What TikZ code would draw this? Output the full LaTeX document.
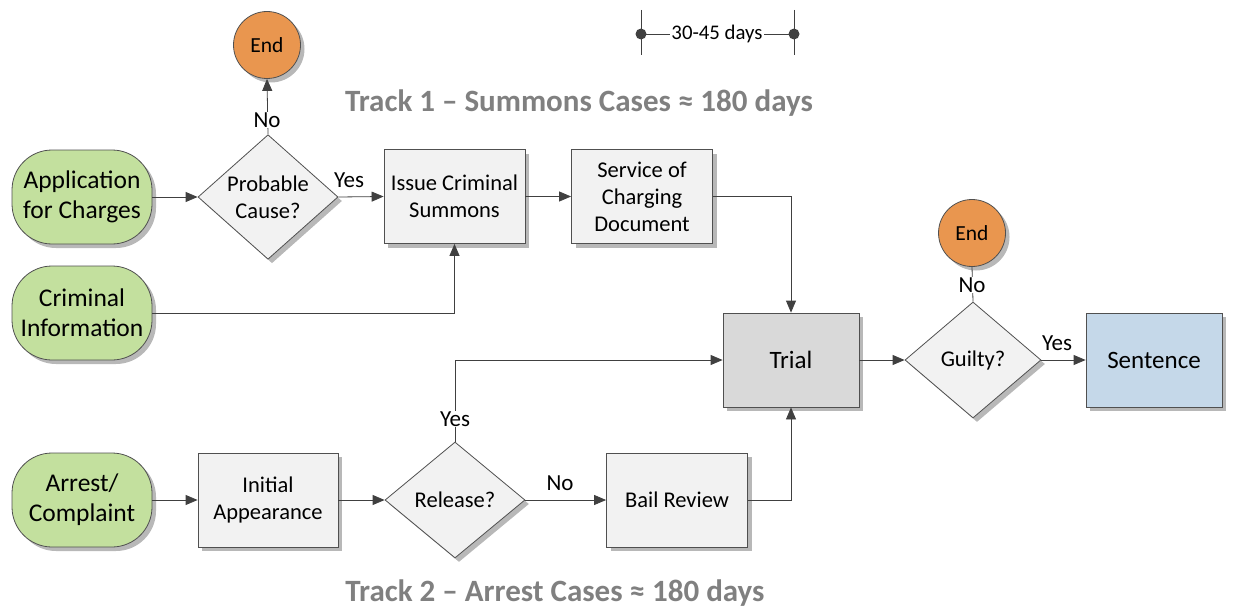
\documentclass[tikz,border=0pt]{standalone}
\usepackage{fontspec}
\setmainfont{Carlito}
\usetikzlibrary{shapes.geometric,arrows.meta,shadows}
\definecolor{linec}{HTML}{404040}
\definecolor{borderc}{HTML}{505050}
\definecolor{shadowc}{HTML}{B8B8B8}
\definecolor{greenc}{HTML}{C3E09E}
\definecolor{orangec}{HTML}{E9964F}
\definecolor{procc}{HTML}{F2F2F2}
\definecolor{trialc}{HTML}{D9D9D9}
\definecolor{bluec}{HTML}{C5D8E9}
\definecolor{titlec}{HTML}{808080}
\begin{document}
\begin{tikzpicture}[x=1pt,y=-1pt,
  base/.style={draw=borderc, line width=0.8pt, align=center, inner sep=0pt,
    font=\fontsize{22.5}{27}\selectfont,
    drop shadow={shadow xshift=4pt, shadow yshift=-4pt, fill=shadowc, opacity=1}},
  startbox/.style={base, rectangle, rounded corners=40pt, fill=greenc,
    minimum width=140pt, minimum height=94pt, font=\fontsize{25.5}{30}\selectfont},
  procbox/.style={base, rectangle, fill=procc, minimum width=141pt, minimum height=94pt},
  decbox/.style={base, diamond, fill=procc, minimum width=140pt, minimum height=116pt},
  endbox/.style={base, circle, fill=orangec, minimum size=67pt, font=\fontsize{21.5}{25}\selectfont},
  conn/.style={draw=linec, line width=0.8pt},
  arr/.style={conn, -{Triangle[length=12pt,width=10pt]}},
  lbl/.style={font=\fontsize{23}{27}\selectfont, inner sep=1pt},
  lblw/.style={lbl, fill=white},
  title/.style={font=\bfseries\fontsize{31}{37}\selectfont, text=titlec}
]
\useasboundingbox (0,0) rectangle (1239,607);

% nodes
\node[startbox] (app) at (82,197) {Application\\for Charges};
\node[startbox] (crim) at (82,313) {Criminal\\Information};
\node[startbox] (arrc) at (82,500) {Arrest/\\Complaint};
\node[decbox] (pc) at (268,197) {Probable\\Cause?};
\node[endbox] (end1) at (267,45) {End};
\node[procbox] (iss) at (454.5,196.5) {Issue Criminal\\Summons};
\node[procbox] (serv) at (642,196.5) {Service of\\Charging\\Document};
\node[base, rectangle, fill=trialc, minimum width=136pt, minimum height=94pt,
  font=\fontsize{25}{30}\selectfont] (trial) at (791,360) {Trial};
\node[decbox, minimum width=136pt] (guilty) at (973,360) {Guilty?};
\node[endbox] (end2) at (972,233) {End};
\node[base, rectangle, fill=bluec, minimum width=136pt, minimum height=94pt,
  font=\fontsize{25}{30}\selectfont] (sent) at (1154,360) {Sentence};
\node[procbox, minimum width=140pt] (init) at (268,500) {Initial\\Appearance};
\node[decbox] (rel) at (455,500) {Release?};
\node[procbox] (bail) at (677,500) {Bail Review};

% connectors, track 1
\draw[arr] (app.east) -- (pc.west);
\draw[arr] (pc.east) -- (iss.west);
\node[lbl] (yes1) at (349,180) {Yes};
\draw[arr] (pc.north) -- (end1.south);
\node[lblw] (no1) at (267,120) {No};
\draw[arr] (crim.east) -| (iss.south);
\draw[arr] (iss.east) -- (serv.west);
\draw[arr] (serv.east) -| (trial.north);

% track 2
\draw[arr] (arrc.east) -- (init.west);
\draw[arr] (init.east) -- (rel.west);
\draw[arr] (rel.east) -- (bail.west);
\node[lbl] (no2) at (560,483) {No};
\draw[arr] (rel.north) |- (trial.west);
\node[lblw] (yes2) at (455,419) {Yes};
\draw[arr] (bail.east) -| (trial.south);

% outcome
\draw[arr] (trial.east) -- (guilty.west);
\draw[arr] (guilty.east) -- (sent.west);
\node[lbl] (yes3) at (1057,343) {Yes};
\draw[conn] (guilty.north) -- (end2.south);
\node[lblw] (no3) at (972,285) {No};

% timeline
\coordinate (tl) at (641,34);
\coordinate (tr) at (794,34);
\coordinate (tlt) at (641,10);
\coordinate (tlb) at (641,55);
\coordinate (trt) at (794,10);
\coordinate (trb) at (794,55);
\draw[conn] (tlt) -- (tlb);
\draw[conn] (trt) -- (trb);
\draw[conn] (tl) -- (tr);
\fill[linec] (tl) circle (5.5pt);
\fill[linec] (tr) circle (5.5pt);
\node[fill=white, inner sep=1pt, font=\fontsize{20.8}{25}\selectfont] (tt) at (717,34) {30-45 days};

% titles
\node[title] (t1) at (579,103) {Track 1 – Summons Cases ≈ 180 days};
\node[title] (t2) at (555,593) {Track 2 – Arrest Cases ≈ 180 days};
\end{tikzpicture}
\end{document}
